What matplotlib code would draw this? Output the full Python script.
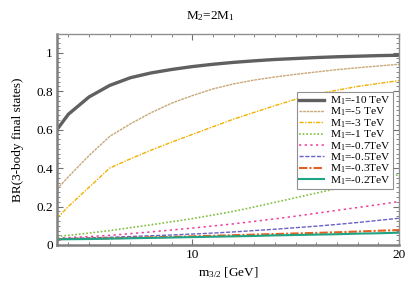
import numpy as np
import matplotlib
matplotlib.use('Agg')
import matplotlib.pyplot as plt
from matplotlib.ticker import MultipleLocator, FixedLocator

plt.rcParams['font.family'] = ['Liberation Serif', 'DejaVu Serif']
plt.rcParams['mathtext.fontset'] = 'custom'
plt.rcParams['mathtext.rm'] = 'Liberation Serif'
plt.rcParams['mathtext.it'] = 'Liberation Serif:italic'

# gravitino mass grid [GeV]
m32 = [3.45, 4, 5, 6, 7, 8, 9, 10, 11, 12, 13, 14, 15, 16, 17, 18, 19, 20]

# BR(3-body), one list per M1
br_m10 = [0.60, 0.68, 0.77, 0.83, 0.87, 0.895, 0.913, 0.928, 0.94, 0.95, 0.958, 0.965, 0.97, 0.975, 0.979, 0.982, 0.985, 0.987]
br_m5 = [0.29, 0.355, 0.465, 0.565, 0.63, 0.688, 0.738, 0.777, 0.812, 0.838, 0.858, 0.874, 0.888, 0.90, 0.912, 0.922, 0.931, 0.94]
br_m3 = [0.139, 0.20, 0.30, 0.40, 0.448, 0.493, 0.535, 0.575, 0.615, 0.655, 0.69, 0.725, 0.758, 0.785, 0.805, 0.825, 0.84, 0.855]
br_m1 = [0.045, 0.05, 0.062, 0.075, 0.09, 0.105, 0.121, 0.137, 0.156, 0.175, 0.198, 0.222, 0.246, 0.27, 0.294, 0.318, 0.342, 0.366]
br_m07 = [0.035, 0.038, 0.044, 0.05, 0.059, 0.068, 0.078, 0.088, 0.099, 0.11, 0.123, 0.136, 0.15, 0.165, 0.18, 0.195, 0.21, 0.226]
br_m05 = [0.033, 0.034, 0.037, 0.04, 0.044, 0.048, 0.052, 0.057, 0.062, 0.068, 0.075, 0.082, 0.09, 0.098, 0.107, 0.117, 0.128, 0.139]
br_m03 = [0.03, 0.031, 0.033, 0.035, 0.037, 0.04, 0.042, 0.045, 0.048, 0.051, 0.054, 0.057, 0.06, 0.063, 0.066, 0.07, 0.074, 0.078]
br_m02 = [0.03, 0.03, 0.031, 0.033, 0.035, 0.037, 0.039, 0.041, 0.043, 0.045, 0.047, 0.05, 0.052, 0.054, 0.056, 0.059, 0.061, 0.064]

labels = ['M$_1$=-10 TeV', 'M$_1$=-5 TeV', 'M$_1$=-3 TeV', 'M$_1$=-1 TeV',
          'M$_1$=-0.7TeV', 'M$_1$=-0.5TeV', 'M$_1$=-0.3TeV', 'M$_1$=-0.2TeV']

fig = plt.figure(figsize=(4.2, 2.94), dpi=100)
ax = fig.add_axes([0.1357, 0.1667, 0.8143, 0.7193])

ax.plot(m32, br_m10, '-', color='#606060', lw=2.4, label=labels[0])
ax.plot(m32, br_m5, color='#c9a878', lw=1.0, ls=(0, (2, 0.6)), label=labels[1])
ax.plot(m32, br_m3, color='#f0b000', lw=1.0, ls=(0, (3, 1, 1, 1)), label=labels[2])
ax.plot(m32, br_m1, color='#7fbf3f', lw=1.2, ls=(0, (1, 1.2)), label=labels[3])
ax.plot(m32, br_m07, color='#ee3f9a', lw=1.1, ls=(0, (1.5, 2.2)), label=labels[4])
ax.plot(m32, br_m05, color='#6a62c4', lw=1.0, ls=(0, (3, 1.2)), label=labels[5])
ax.plot(m32, br_m03, color='#e4601c', lw=1.5, ls=(0, (4, 1, 1, 1)), label=labels[6])
ax.plot(m32, br_m02, '-', color='#1fa383', lw=1.5, label=labels[7])

ax.set_xlim(3.45, 20)
ax.set_ylim(0, 1.1)

ax.xaxis.set_major_locator(FixedLocator([10, 20]))
ax.xaxis.set_minor_locator(MultipleLocator(1))
ax.yaxis.set_major_locator(FixedLocator([0, 0.2, 0.4, 0.6, 0.8, 1.0]))
ax.yaxis.set_minor_locator(MultipleLocator(0.025))
ax.set_yticklabels(['0', '0.2', '0.4', '0.6', '0.8', '1'])
ax.tick_params(which='both', direction='in', top=True, right=True, color='#707070',
               labelsize=9.5, pad=3)
ax.tick_params(which='major', length=4, width=0.8)
ax.tick_params(which='minor', length=2, width=0.6)

for s in ['top', 'right']:
    ax.spines[s].set_color('#909090')
    ax.spines[s].set_linewidth(1.0)
for s in ['bottom', 'left']:
    ax.spines[s].set_color('#808080')
    ax.spines[s].set_linewidth(1.8)

ax.set_xlabel('m$_{3/2}$ [GeV]', fontsize=9.5, labelpad=3)
ax.set_ylabel('BR(3-body final states)', fontsize=9.5, labelpad=9)
fig.text(0.5, 0.945, 'M$_2$=2M$_1$', ha='center', va='center', fontsize=9.5)

leg = ax.legend(loc='upper right', bbox_to_anchor=(0.983, 0.722), fontsize=8.2,
                frameon=True, fancybox=False, edgecolor='#909090', framealpha=1,
                handlelength=2.2, handletextpad=0.5, borderpad=0.2,
                labelspacing=-0.1, borderaxespad=0)
leg.get_frame().set_linewidth(0.8)

fig.savefig('out.png', dpi=100)
